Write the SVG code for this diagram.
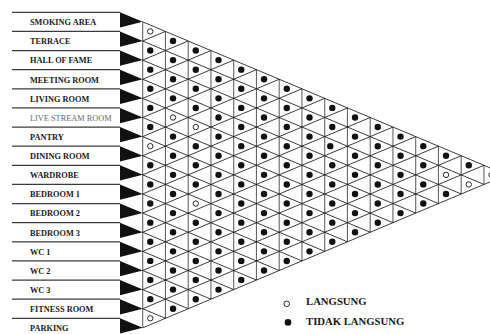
<svg xmlns="http://www.w3.org/2000/svg" xmlns:xlink="http://www.w3.org/1999/xlink" width="490" height="334" viewBox="0 0 490 334">
<style>
.lbl text{font-family:"Liberation Serif","Times New Roman",serif;font-weight:bold;font-size:8.3px;fill:#1a1a1a}
.lbl text.lt{font-weight:normal;fill:#6a6a6a}
.lbl path{stroke:#3c3c3c;stroke-width:1.2;fill:none}
.lbl polygon{fill:#111}
.grid path{fill:none;vector-effect:non-scaling-stroke}
.grid .v{stroke:#666;stroke-width:1.1}
.grid .g{stroke:#1a1a1a;stroke-width:0.85}
.leg text{font-family:"Liberation Serif","Times New Roman",serif;font-weight:bold;font-size:10.7px;fill:#1a1a1a}
</style>
<defs>
<circle id="d" r="3.2" fill="#111"/>
<circle id="o" r="2.7" fill="#fff" stroke="#111" stroke-width="0.9"/>
</defs>
<rect width="490" height="334" fill="#fff"/>

<g id="connectors" class="grid" transform="translate(142.7 21.8625) scale(22.75 9.5625)">
<path class="v" d="M0 0V32M1 1V31M2 2V30M3 3V29M4 4V28M5 5V27M6 6V26M7 7V25M8 8V24M9 9V23M10 10V22M11 11V21M12 12V20M13 13V19M14 14V18M15 15V17"/>
<path class="g" d="M0 0L16 16M0 2L15 17M0 4L14 18M0 6L13 19M0 8L12 20M0 10L11 21M0 12L10 22M0 14L9 23M0 16L8 24M0 18L7 25M0 20L6 26M0 22L5 27M0 24L4 28M0 26L3 29M0 28L2 30M0 30L1 31M0 32L16 16M0 30L15 15M0 28L14 14M0 26L13 13M0 24L12 12M0 22L11 11M0 20L10 10M0 18L9 9M0 16L8 8M0 14L7 7M0 12L6 6M0 10L5 5M0 8L4 4M0 6L3 3M0 4L2 2M0 2L1 1"/>
</g>

<g id="marks">
<g transform="translate(150.28 31.42)"><use href="#o" y="0"/><use href="#d" y="19.125"/><use href="#d" y="38.25"/><use href="#d" y="57.375"/><use href="#d" y="76.5"/><use href="#d" y="95.625"/><use href="#o" y="114.75"/><use href="#d" y="133.875"/><use href="#d" y="153"/><use href="#d" y="172.125"/><use href="#d" y="191.25"/><use href="#d" y="210.375"/><use href="#d" y="229.5"/><use href="#d" y="248.625"/><use href="#d" y="267.75"/><use href="#o" y="286.875"/></g>
<g transform="translate(173.03 40.99)"><use href="#d" y="0"/><use href="#d" y="19.125"/><use href="#d" y="38.25"/><use href="#d" y="57.375"/><use href="#o" y="76.5"/><use href="#d" y="95.625"/><use href="#d" y="114.75"/><use href="#d" y="133.875"/><use href="#d" y="153"/><use href="#d" y="172.125"/><use href="#d" y="191.25"/><use href="#d" y="210.375"/><use href="#d" y="229.5"/><use href="#d" y="248.625"/><use href="#d" y="267.75"/></g>
<g transform="translate(195.78 50.55)"><use href="#d" y="0"/><use href="#d" y="19.125"/><use href="#d" y="38.25"/><use href="#d" y="57.375"/><use href="#o" y="76.5"/><use href="#d" y="95.625"/><use href="#d" y="114.75"/><use href="#d" y="133.875"/><use href="#o" y="153"/><use href="#d" y="172.125"/><use href="#d" y="191.25"/><use href="#d" y="210.375"/><use href="#d" y="229.5"/><use href="#d" y="248.625"/></g>
<g transform="translate(218.53 60.11)"><use href="#d" y="0"/><use href="#d" y="19.125"/><use href="#d" y="38.25"/><use href="#d" y="57.375"/><use href="#d" y="76.5"/><use href="#d" y="95.625"/><use href="#d" y="114.75"/><use href="#d" y="133.875"/><use href="#d" y="153"/><use href="#d" y="172.125"/><use href="#d" y="191.25"/><use href="#d" y="210.375"/><use href="#d" y="229.5"/></g>
<g transform="translate(241.28 69.67)"><use href="#d" y="0"/><use href="#d" y="19.125"/><use href="#d" y="38.25"/><use href="#d" y="57.375"/><use href="#d" y="76.5"/><use href="#d" y="95.625"/><use href="#d" y="114.75"/><use href="#d" y="133.875"/><use href="#d" y="153"/><use href="#d" y="172.125"/><use href="#d" y="191.25"/><use href="#d" y="210.375"/></g>
<g transform="translate(264.03 79.24)"><use href="#d" y="0"/><use href="#d" y="19.125"/><use href="#d" y="38.25"/><use href="#d" y="57.375"/><use href="#d" y="76.5"/><use href="#d" y="95.625"/><use href="#d" y="114.75"/><use href="#d" y="133.875"/><use href="#d" y="153"/><use href="#d" y="172.125"/><use href="#d" y="191.25"/></g>
<g transform="translate(286.78 88.80)"><use href="#d" y="0"/><use href="#d" y="19.125"/><use href="#d" y="38.25"/><use href="#d" y="57.375"/><use href="#d" y="76.5"/><use href="#d" y="95.625"/><use href="#d" y="114.75"/><use href="#d" y="133.875"/><use href="#d" y="153"/><use href="#d" y="172.125"/></g>
<g transform="translate(309.53 98.36)"><use href="#d" y="0"/><use href="#d" y="19.125"/><use href="#d" y="38.25"/><use href="#d" y="57.375"/><use href="#d" y="76.5"/><use href="#d" y="95.625"/><use href="#d" y="114.75"/><use href="#d" y="133.875"/><use href="#d" y="153"/></g>
<g transform="translate(332.28 107.92)"><use href="#d" y="0"/><use href="#d" y="19.125"/><use href="#d" x="-2" y="38.25"/><use href="#d" y="57.375"/><use href="#d" y="76.5"/><use href="#d" y="95.625"/><use href="#d" y="114.75"/><use href="#d" y="133.875"/></g>
<g transform="translate(355.03 117.49)"><use href="#d" y="0"/><use href="#d" y="19.125"/><use href="#d" y="38.25"/><use href="#d" y="57.375"/><use href="#d" y="76.5"/><use href="#d" y="95.625"/><use href="#d" y="114.75"/></g>
<g transform="translate(377.78 127.05)"><use href="#d" y="0"/><use href="#d" y="19.125"/><use href="#d" y="38.25"/><use href="#d" y="57.375"/><use href="#d" y="76.5"/><use href="#d" y="95.625"/></g>
<g transform="translate(400.53 136.61)"><use href="#d" y="0"/><use href="#d" y="19.125"/><use href="#d" y="38.25"/><use href="#d" y="57.375"/><use href="#d" y="76.5"/></g>
<g transform="translate(423.28 146.17)"><use href="#d" y="0"/><use href="#d" y="19.125"/><use href="#d" y="38.25"/><use href="#d" y="57.375"/></g>
<g transform="translate(446.03 155.74)"><use href="#d" y="0"/><use href="#o" y="19.125"/><use href="#d" y="38.25"/></g>
<g transform="translate(468.78 165.30)"><use href="#d" y="0"/><use href="#o" y="19.125"/></g>
<g transform="translate(491.53 174.86)"><use href="#o" y="0"/></g>
</g>

<g class="lbl">
<g id="smoking-area"><path d="M12 12.3H120"/><polygon points="120,12.3 142.7,21.86 120,27.6"/><text x="30" y="25.16">SMOKING AREA</text></g>
<g id="terrace"><path d="M12 31.43H120"/><polygon points="120,31.43 142.7,40.99 120,46.73"/><text x="30" y="44.29">TERRACE</text></g>
<g id="hall-of-fame"><path d="M12 50.55H120"/><polygon points="120,50.55 142.7,60.11 120,65.85"/><text x="30" y="63.41">HALL OF FAME</text></g>
<g id="meeting-room"><path d="M12 69.68H120"/><polygon points="120,69.68 142.7,79.24 120,84.98"/><text x="30" y="82.54">MEETING ROOM</text></g>
<g id="living-room"><path d="M12 88.8H120"/><polygon points="120,88.8 142.7,98.36 120,104.1"/><text x="30" y="101.66">LIVING ROOM</text></g>
<g id="live-stream-room"><path d="M12 107.93H120"/><polygon points="120,107.93 142.7,117.49 120,123.23"/><text class="lt" x="30" y="120.79">LIVE STREAM ROOM</text></g>
<g id="pantry"><path d="M12 127.05H120"/><polygon points="120,127.05 142.7,136.61 120,142.35"/><text x="30" y="139.91">PANTRY</text></g>
<g id="dining-room"><path d="M12 146.18H120"/><polygon points="120,146.18 142.7,155.74 120,161.48"/><text x="30" y="159.04">DINING ROOM</text></g>
<g id="wardrobe"><path d="M12 165.3H120"/><polygon points="120,165.3 142.7,174.86 120,180.6"/><text x="30" y="178.16">WARDROBE</text></g>
<g id="bedroom-1"><path d="M12 184.43H120"/><polygon points="120,184.43 142.7,193.99 120,199.73"/><text x="30" y="197.29">BEDROOM 1</text></g>
<g id="bedroom-2"><path d="M12 203.55H120"/><polygon points="120,203.55 142.7,213.11 120,218.85"/><text x="30" y="216.41">BEDROOM 2</text></g>
<g id="bedroom-3"><path d="M12 222.68H120"/><polygon points="120,222.68 142.7,232.24 120,237.98"/><text x="30" y="235.54">BEDROOM 3</text></g>
<g id="wc-1"><path d="M12 241.8H120"/><polygon points="120,241.8 142.7,251.36 120,257.1"/><text x="30" y="254.66">WC 1</text></g>
<g id="wc-2"><path d="M12 260.93H120"/><polygon points="120,260.93 142.7,270.49 120,276.23"/><text x="30" y="273.79">WC 2</text></g>
<g id="wc-3"><path d="M12 280.05H120"/><polygon points="120,280.05 142.7,289.61 120,295.35"/><text x="30" y="292.91">WC 3</text></g>
<g id="fitness-room"><path d="M12 299.18H120"/><polygon points="120,299.18 142.7,308.74 120,314.48"/><text x="30" y="312.04">FITNESS ROOM</text></g>
<g id="parking"><path d="M12 318.3H120"/><polygon points="120,318.3 142.7,327.86 120,333.6"/><text x="30" y="331.16">PARKING</text></g>
</g>

<g id="legend" class="leg">
<circle cx="286.7" cy="303.8" r="2.8" fill="#fff" stroke="#111" stroke-width="0.9"/>
<text x="306" y="305.2">LANGSUNG</text>
<circle cx="288" cy="322.4" r="3.3" fill="#111"/>
<text x="306" y="324.8">TIDAK LANGSUNG</text>
</g>
</svg>
